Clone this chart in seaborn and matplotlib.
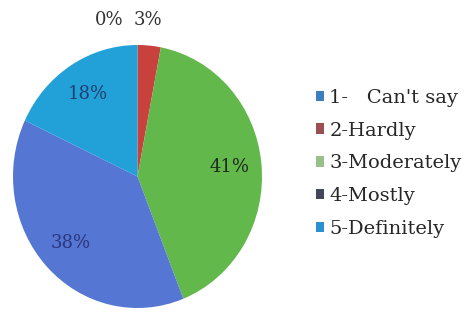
import matplotlib
matplotlib.use("Agg")
import matplotlib.pyplot as plt
import seaborn as sns
from matplotlib.patches import Patch

sns.set_theme(style="white")
plt.rcParams['font.family'] = ['DejaVu Serif']

categories = ["1-   Can't say", "2-Hardly", "3-Moderately", "4-Mostly", "5-Definitely"]
values = [0, 3, 41, 38, 18]
slice_colors = ["#3d7fc0", "#c8413c", "#63b84c", "#5576d2", "#22a0d8"]
legend_colors = ["#3d7fc0", "#9a4f52", "#98c088", "#43475a", "#2b90d0"]
pct_colors = ["#333333", "#333333", "#1e2a1e", "#2a3680", "#1f3f6e"]

fig = plt.figure(figsize=(4.70, 3.14), dpi=100)
fig.patch.set_facecolor("white")
ax = fig.add_axes([13/470, 6/314, 249/470, 263/314])

wedges, texts, autotexts = ax.pie(
    values, colors=slice_colors, startangle=90, counterclock=False,
    autopct=lambda p: f"{p:.0f}%", pctdistance=0.74,
    textprops=dict(fontsize=13),
    wedgeprops=dict(linewidth=0),
)
ax.set_aspect("auto")
ax.set_xlim(-1, 1)
ax.set_ylim(-1, 1)
ax.axis("off")

for t, c in zip(autotexts, pct_colors):
    t.set_color(c)

# small slices labelled above the pie
small_pos = {0: (-0.23, 1.19), 1: (0.08, 1.19)}
for i, (x, y) in small_pos.items():
    autotexts[i].set_position((x, y))

handles = [Patch(facecolor=c, edgecolor="none") for c in legend_colors]
fig.legend(handles, categories, loc="center left", bbox_to_anchor=(0.655, 0.48),
           frameon=False, fontsize=14, handlelength=0.45, handleheight=0.45,
           handletextpad=0.25, labelspacing=0.76, borderaxespad=0)

fig.savefig("out.png", dpi=100, facecolor="white")
